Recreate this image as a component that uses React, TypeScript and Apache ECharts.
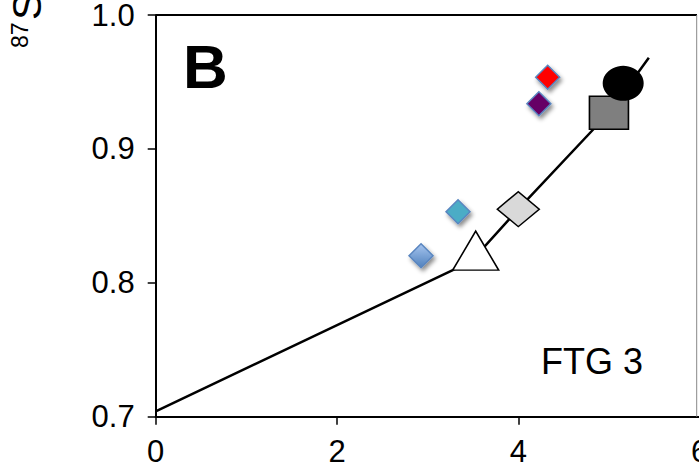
import React, { useEffect, useRef } from "react";
import * as echarts from "echarts";

const xTicks = [0, 2, 4, 6];
const yTicks = [0.7, 0.8, 0.9, 1.0];
const mixingLine: [number, number][] = [
  [0, 0.704],
  [3.48, 0.816],
  [4.0, 0.855],
  [5.0, 0.927],
  [5.44, 0.968],
];
const trianglePt: [number, number] = [3.53, 0.824];
const grayDiamondPt: [number, number] = [4.0, 0.855];
const squarePt: [number, number] = [5.0, 0.927];
const circlePt: [number, number] = [5.157, 0.949];
const sampleNames = ["blue", "teal", "purple", "red"];
const samplePts: [number, number][] = [
  [2.927, 0.8202],
  [3.335, 0.8531],
  [4.227, 0.9337],
  [4.324, 0.9535],
];
const panelLabel = "B";
const siteLabel = "FTG 3";

const FONT = "'Liberation Sans', Arial, sans-serif";

export default function App() {
  const ref = useRef<HTMLDivElement>(null);
  useEffect(() => {
    if (!ref.current) return;
    const chart = echarts.init(ref.current, undefined, { renderer: "svg" });
    const sampleColors: any[] = [
      new echarts.graphic.LinearGradient(0, 0, 0, 1, [
        { offset: 0, color: "#a7c5ef" },
        { offset: 1, color: "#4f81bd" },
      ]),
      "#4bacc6",
      "#660066",
      "#ff0000",
    ];
    const shadow = {
      shadowBlur: 4,
      shadowOffsetX: 2,
      shadowOffsetY: 3,
      shadowColor: "rgba(0,0,0,0.45)",
    };
    chart.setOption({
      animation: false,
      backgroundColor: "#ffffff",
      grid: {
        left: 155.7,
        right: -0.6,
        top: 15,
        bottom: 52.3,
        containLabel: false,
        outerBoundsMode: "none",
      },
      xAxis: {
        type: "value",
        min: xTicks[0],
        max: xTicks[xTicks.length - 1],
        interval: 2,
        axisLine: { show: true, onZero: false, lineStyle: { color: "#000", width: 2 } },
        axisTick: { show: true, inside: false, length: 8, lineStyle: { color: "#000", width: 1.5 } },
        splitLine: { show: false },
        axisLabel: { color: "#000", fontSize: 31, fontFamily: FONT, margin: 19, hideOverlap: false },
      },
      yAxis: {
        type: "value",
        min: yTicks[0],
        max: yTicks[yTicks.length - 1],
        interval: 0.1,
        axisLine: { show: true, onZero: false, lineStyle: { color: "#000", width: 2 } },
        axisTick: { show: true, inside: false, length: 8, lineStyle: { color: "#000", width: 1.5 } },
        splitLine: { show: false },
        axisLabel: {
          color: "#000",
          fontSize: 31,
          fontFamily: FONT,
          margin: 21,
          formatter: (v: number) => v.toFixed(1),
        },
      },
      graphic: [
        {
          type: "line",
          shape: { x1: 155.7, y1: 15, x2: 697, y2: 15 },
          style: { stroke: "#000", lineWidth: 2 },
          z: 10,
        },
        {
          type: "line",
          shape: { x1: 696.7, y1: 15, x2: 696.7, y2: 416.7 },
          style: { stroke: "#888", lineWidth: 1 },
          z: 10,
        },
        {
          type: "text",
          x: 183,
          y: 66.7,
          style: {
            text: panelLabel,
            font: `bold 62px ${FONT}`,
            fill: "#000",
            textAlign: "left",
            textVerticalAlign: "middle",
          },
          z: 10,
        },
        {
          type: "text",
          x: 541,
          y: 361,
          style: {
            text: siteLabel,
            font: `36px ${FONT}`,
            fill: "#000",
            textAlign: "left",
            textVerticalAlign: "middle",
          },
          z: 10,
        },
        {
          type: "group",
          x: 0,
          y: 48,
          rotation: Math.PI / 2,
          children: [
            {
              type: "text",
              x: 0,
              y: 20,
              style: { text: "87", font: `23px ${FONT}`, fill: "#000", textAlign: "left", textVerticalAlign: "middle" },
            },
            {
              type: "text",
              x: 28,
              y: 27,
              style: { text: "Sr/", font: `41px ${FONT}`, fill: "#000", textAlign: "left", textVerticalAlign: "middle" },
            },
            {
              type: "text",
              x: 88,
              y: 20,
              style: { text: "86", font: `23px ${FONT}`, fill: "#000", textAlign: "left", textVerticalAlign: "middle" },
            },
            {
              type: "text",
              x: 114,
              y: 27,
              style: { text: "Sr", font: `41px ${FONT}`, fill: "#000", textAlign: "left", textVerticalAlign: "middle" },
            },
          ],
        },
      ],
      series: [
        {
          type: "line",
          data: mixingLine,
          showSymbol: false,
          symbol: "none",
          lineStyle: { color: "#000", width: 2.5 },
          z: 2,
          silent: true,
        },
        {
          type: "scatter",
          data: [trianglePt],
          symbol: "triangle",
          symbolSize: [46, 39],
          itemStyle: { color: "#fff", borderColor: "#000", borderWidth: 1.5, opacity: 1 },
          z: 3,
        },
        {
          type: "scatter",
          data: [grayDiamondPt],
          symbol: "diamond",
          symbolSize: [42, 35],
          itemStyle: { color: "#d9d9d9", borderColor: "#000", borderWidth: 1.5, opacity: 1 },
          z: 3,
        },
        {
          type: "scatter",
          data: [squarePt],
          symbol: "rect",
          symbolSize: [39, 33],
          itemStyle: { color: "#7f7f7f", borderColor: "#000", borderWidth: 1.5, opacity: 1 },
          z: 3,
        },
        {
          type: "scatter",
          data: [circlePt],
          symbol: "circle",
          symbolSize: [41, 35],
          itemStyle: { color: "#000", opacity: 1 },
          z: 4,
        },
        ...samplePts.map((p, i) => ({
          type: "scatter",
          name: sampleNames[i],
          data: [p],
          symbol: "diamond",
          symbolSize: [24, 24],
          itemStyle: {
            color: sampleColors[i],
            borderColor: "#5a86c0",
            borderWidth: 1.5,
            opacity: 1,
            ...shadow,
          },
          z: 5,
        })),
      ],
    });
    return () => chart.dispose();
  }, []);
  return (
    <div
      ref={ref}
      style={{ position: "fixed", left: 0, top: 0, width: 699, height: 469 }}
    />
  );
}
